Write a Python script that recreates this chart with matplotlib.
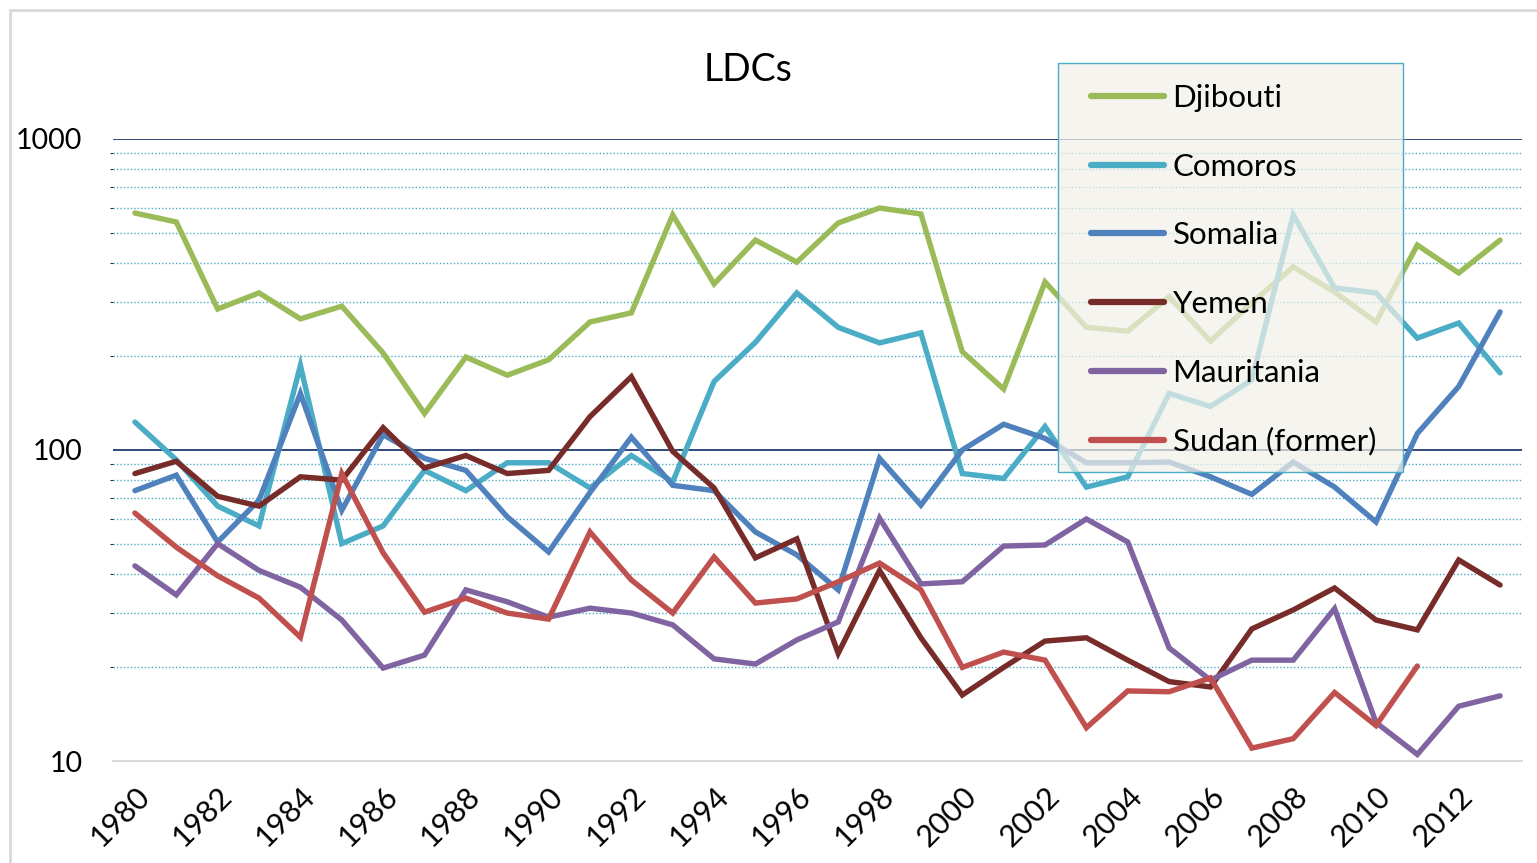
"""LDCs chart: six least-developed countries on a log scale, 1980-2013."""

import matplotlib
matplotlib.use("Agg")
import matplotlib.pyplot as plt
from matplotlib.patches import Rectangle
from matplotlib.ticker import FixedLocator, FuncFormatter, LogLocator, NullFormatter

plt.rcParams["font.family"] = ["Lato", "DejaVu Sans"]

years = list(range(1980, 2014))

djibouti = [578, 541, 284, 320, 264, 290, 205, 131, 199, 174, 195, 258, 276, 570,
            342, 473, 402, 537, 600, 574, 207, 157, 347, 248, 241, 311, 224, 297,
            388, 322, 258, 456, 371, 473]
comoros = [123, 93, 66, 57, 187, 50, 57, 86, 74, 91, 91, 75.5, 96, 79,
           166, 222, 320, 248, 221, 238, 84, 81, 119, 76, 82, 152, 138, 168,
           570, 332, 320, 229, 256, 177]
somalia = [74, 83, 50.6, 69, 152, 64, 112, 94, 86, 61, 47, 73, 110, 77,
           74, 54.5, 46, 35.5, 94, 66.5, 100, 121, 109, 91, 91, 91.5, 82, 72,
           91.5, 76, 58.7, 113, 160, 278]
yemen = [84, 92, 71, 66, 82, 80, 118, 87.5, 96, 84, 86, 128, 172, 99,
         75.5, 45, 51.8, 22.2, 41, 24.9, 16.3, 20, 24.3, 24.9, 21.1, 18, 17.3, 26.6,
         30.6, 36, 28.4, 26.4, 44.3, 36.8]
mauritania = [42.4, 34.2, 50, 41, 36.2, 28.4, 19.9, 21.9, 35.5, 32.5, 29, 31, 29.9, 27.4,
              21.3, 20.5, 24.5, 28, 60.4, 37.1, 37.7, 49.1, 49.5, 60, 50.6, 23.1, 18.2, 21.1,
              21.1, 30.9, 13.3, 10.5, 15, 16.2]
sudan = [62.7, 48.7, 39.4, 33.4, 25, 84, 46.7, 30.1, 33.4, 29.9, 28.6, 54.5, 38.2, 29.9,
         45.3, 32.2, 33.2, 37.7, 43.3, 35.5, 20, 22.4, 21.1, 12.8, 16.8, 16.7, 18.5, 11,
         11.8, 16.6, 13, 20.2]

series = [
    ("Djibouti", djibouti, "#9bbb59"),
    ("Comoros", comoros, "#4bacc6"),
    ("Somalia", somalia, "#4f81bd"),
    ("Yemen", yemen, "#772c2a"),
    ("Mauritania", mauritania, "#8064a2"),
    ("Sudan (former)", sudan, "#c0504d"),
]

W, H = 1537, 863
fig = plt.figure(figsize=(W / 100, H / 100), dpi=100)

# outer chart-area border (only top and left edges fall inside the picture)
fig.patches.append(Rectangle((10 / W, -0.1), 1.2, 1 - 10 / H + 0.1,
                             transform=fig.transFigure, fill=False,
                             edgecolor="#d9d9d9", linewidth=2, zorder=0.5))

ax = fig.add_axes([113 / W, 1 - 761 / H, 1409 / W, 622 / H])

handles = []
for i, (name, vals, color) in enumerate(series):
    ln, = ax.plot(years[:len(vals)], vals, color=color, linewidth=3.9, label=name,
                  solid_capstyle="round", solid_joinstyle="miter", zorder=3 + i)
    handles.append(ln)

ax.set_yscale("log")
ax.set_ylim(10, 1000)
ax.set_xlim(1979.47, 2013.53)

ax.yaxis.set_major_locator(FixedLocator([10, 100, 1000]))
ax.yaxis.set_major_formatter(FuncFormatter(lambda v, _: f"{v:g}"))
ax.yaxis.set_minor_locator(LogLocator(base=10, subs=range(2, 10)))
ax.yaxis.set_minor_formatter(NullFormatter())
ax.grid(True, which="minor", axis="y", color="#4bacc6", linestyle=(0, (1, 1.5)),
        linewidth=1.0, zorder=1)
for v in (100, 1000):
    ax.axhline(v, color="#1f3d6e", linewidth=1.3, zorder=2)

ax.set_xticks(years[::2])
ax.set_xticklabels([str(y) for y in years[::2]], rotation=45, ha="right",
                   rotation_mode="anchor", fontsize=22)
ax.tick_params(axis="both", length=0)
ax.tick_params(axis="y", labelsize=20.5, pad=22)
ax.tick_params(axis="x", pad=15)

for side in ("top", "right", "left"):
    ax.spines[side].set_visible(False)
ax.spines["bottom"].set_color("#d9d9d9")
ax.spines["bottom"].set_linewidth(1.5)

fig.text(748 / W, 1 - 70 / H, "LDCs", ha="center", va="center", fontsize=27)

# legend box: translucent frame drawn over the plot, entries on top of it
fig.patches.append(Rectangle((1058 / W, 1 - 472 / H), 345 / W, 409 / H,
                             transform=fig.transFigure, facecolor="#f2f1ea",
                             alpha=0.72, edgecolor="none", zorder=4))
fig.patches.append(Rectangle((1058 / W, 1 - 472 / H), 345 / W, 409 / H,
                             transform=fig.transFigure, fill=False,
                             edgecolor="#4bacc6", linewidth=1.0, zorder=4.5))
leg = fig.legend(handles, [s[0] for s in series], loc="upper left",
                 bbox_to_anchor=(1091 / W, 1 - 84 / H), frameon=False,
                 fontsize=22.5, borderpad=0, borderaxespad=0,
                 labelspacing=1.3, handlelength=2.35, handletextpad=0.26)
leg.set_zorder(6)
for line in leg.get_lines():
    line.set_linewidth(4.5)
    line.set_solid_capstyle("round")

fig.savefig("out.png", dpi=100)
